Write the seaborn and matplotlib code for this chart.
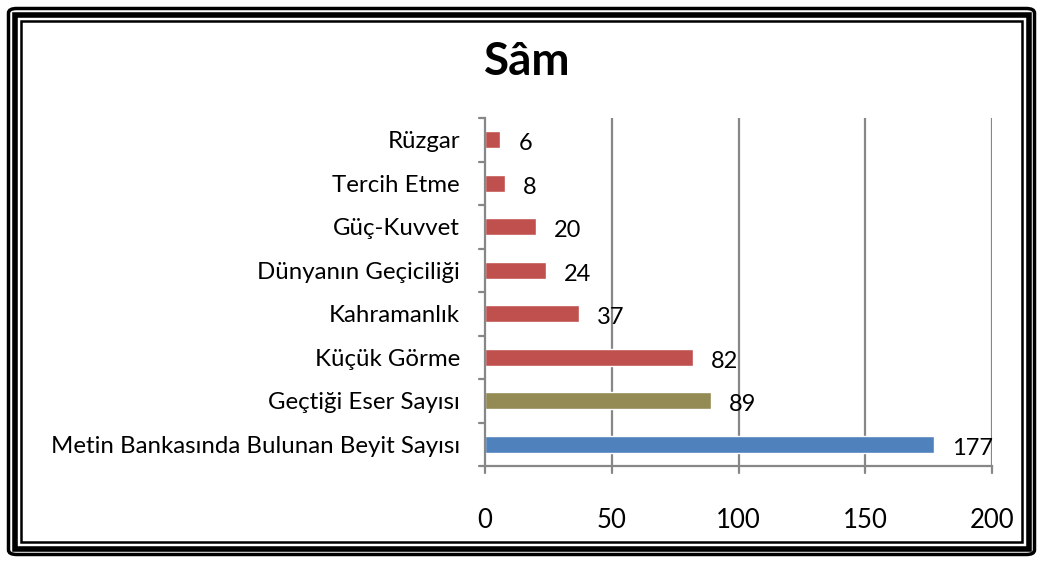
import matplotlib
matplotlib.use("Agg")
import matplotlib.pyplot as plt
import seaborn as sns
import pandas as pd
from matplotlib.patches import Rectangle, FancyBboxPatch

# --- data (top row first, as drawn) ---
categories = ["Rüzgar", "Tercih Etme", "Güç-Kuvvet", "Dünyanın Geçiciliği",
              "Kahramanlık", "Küçük Görme", "Geçtiği Eser Sayısı",
              "Metin Bankasında Bulunan Beyit Sayısı"]
values = [6, 8, 20, 24, 37, 82, 89, 177]
groups = ["tema", "tema", "tema", "tema", "tema", "tema", "eser", "beyit"]
group_colors = {"tema": "#C0504D", "eser": "#948A54", "beyit": "#4F81BD"}
x_ticks = [0, 50, 100, 150, 200]
title = "Sâm"

df = pd.DataFrame({"kategori": categories, "deger": values, "grup": groups})

sns.set_theme(style="white")
plt.rcParams["font.family"] = ["Lato", "DejaVu Sans"]
plt.rcParams["text.color"] = "black"
plt.rcParams["xtick.color"] = "black"
plt.rcParams["ytick.color"] = "black"

W, H = 1043, 563
fig = plt.figure(figsize=(W / 100, H / 100), dpi=100)
ax = fig.add_axes([485 / W, 1 - 466 / H, (992 - 485) / W, (466 - 118) / H])

sns.barplot(data=df, x="deger", y="kategori", hue="grup", palette=group_colors,
            order=categories, dodge=False, width=0.4, saturation=1,
            legend=False, ax=ax)

ax.set_xlim(0, 200)
ax.set_ylim(len(categories) - 0.5, -0.5)
ax.set_xticks(x_ticks)
ax.set_xticklabels([str(t) for t in x_ticks], fontsize=18.5)
ax.set_xlabel("")
ax.set_ylabel("")
ax.tick_params(axis="y", labelsize=17.3, length=0, pad=18, labelcolor="black")
ax.tick_params(axis="x", length=0, pad=30, labelcolor="black")

# grid lines at the major x ticks (except 0)
for t in x_ticks[1:]:
    ax.axvline(t, color="#878787", lw=1.6, zorder=0)

for side in ["top", "right"]:
    ax.spines[side].set_visible(False)
for side in ["left", "bottom"]:
    ax.spines[side].set_color("#878787")
    ax.spines[side].set_linewidth(1.6)

# boundary ticks on the category axis and tick marks on value axis
trans_y = ax.get_yaxis_transform()
for i in range(len(categories) + 1):
    ax.plot([-0.012, 0], [i - 0.5, i - 0.5], transform=trans_y,
            color="#878787", lw=1.6, clip_on=False)
trans_x = ax.get_xaxis_transform()
for t in x_ticks:
    ax.plot([t, t], [0, -0.02], transform=trans_x, color="#878787",
            lw=1.6, clip_on=False)

# value labels
for i, v in enumerate(values):
    ax.annotate(str(v), (v, i), xytext=(13, -3), textcoords="offset points",
                ha="left", va="center", fontsize=17, color="black")

fig.text(527 / W, 1 - 62 / H, title, ha="center", va="center",
         fontsize=33, fontweight="bold", color="black")

# double frame around the chart
fig.patches.append(FancyBboxPatch((8.5 / W, 8.5 / H), (W - 17) / W, (H - 17) / H,
                                  boxstyle="round,pad=0,rounding_size=0.008",
                                  transform=fig.transFigure, fill=False,
                                  edgecolor="black", lw=2.5))
fig.patches.append(Rectangle((14.5 / W, 14.5 / H), (W - 29) / W, (H - 29) / H,
                             transform=fig.transFigure, fill=False,
                             edgecolor="black", lw=4))
fig.patches.append(Rectangle((21 / W, 21 / H), (W - 42) / W, (H - 42) / H,
                             transform=fig.transFigure, fill=False,
                             edgecolor="black", lw=1.8))

fig.savefig("out.png", dpi=100)
